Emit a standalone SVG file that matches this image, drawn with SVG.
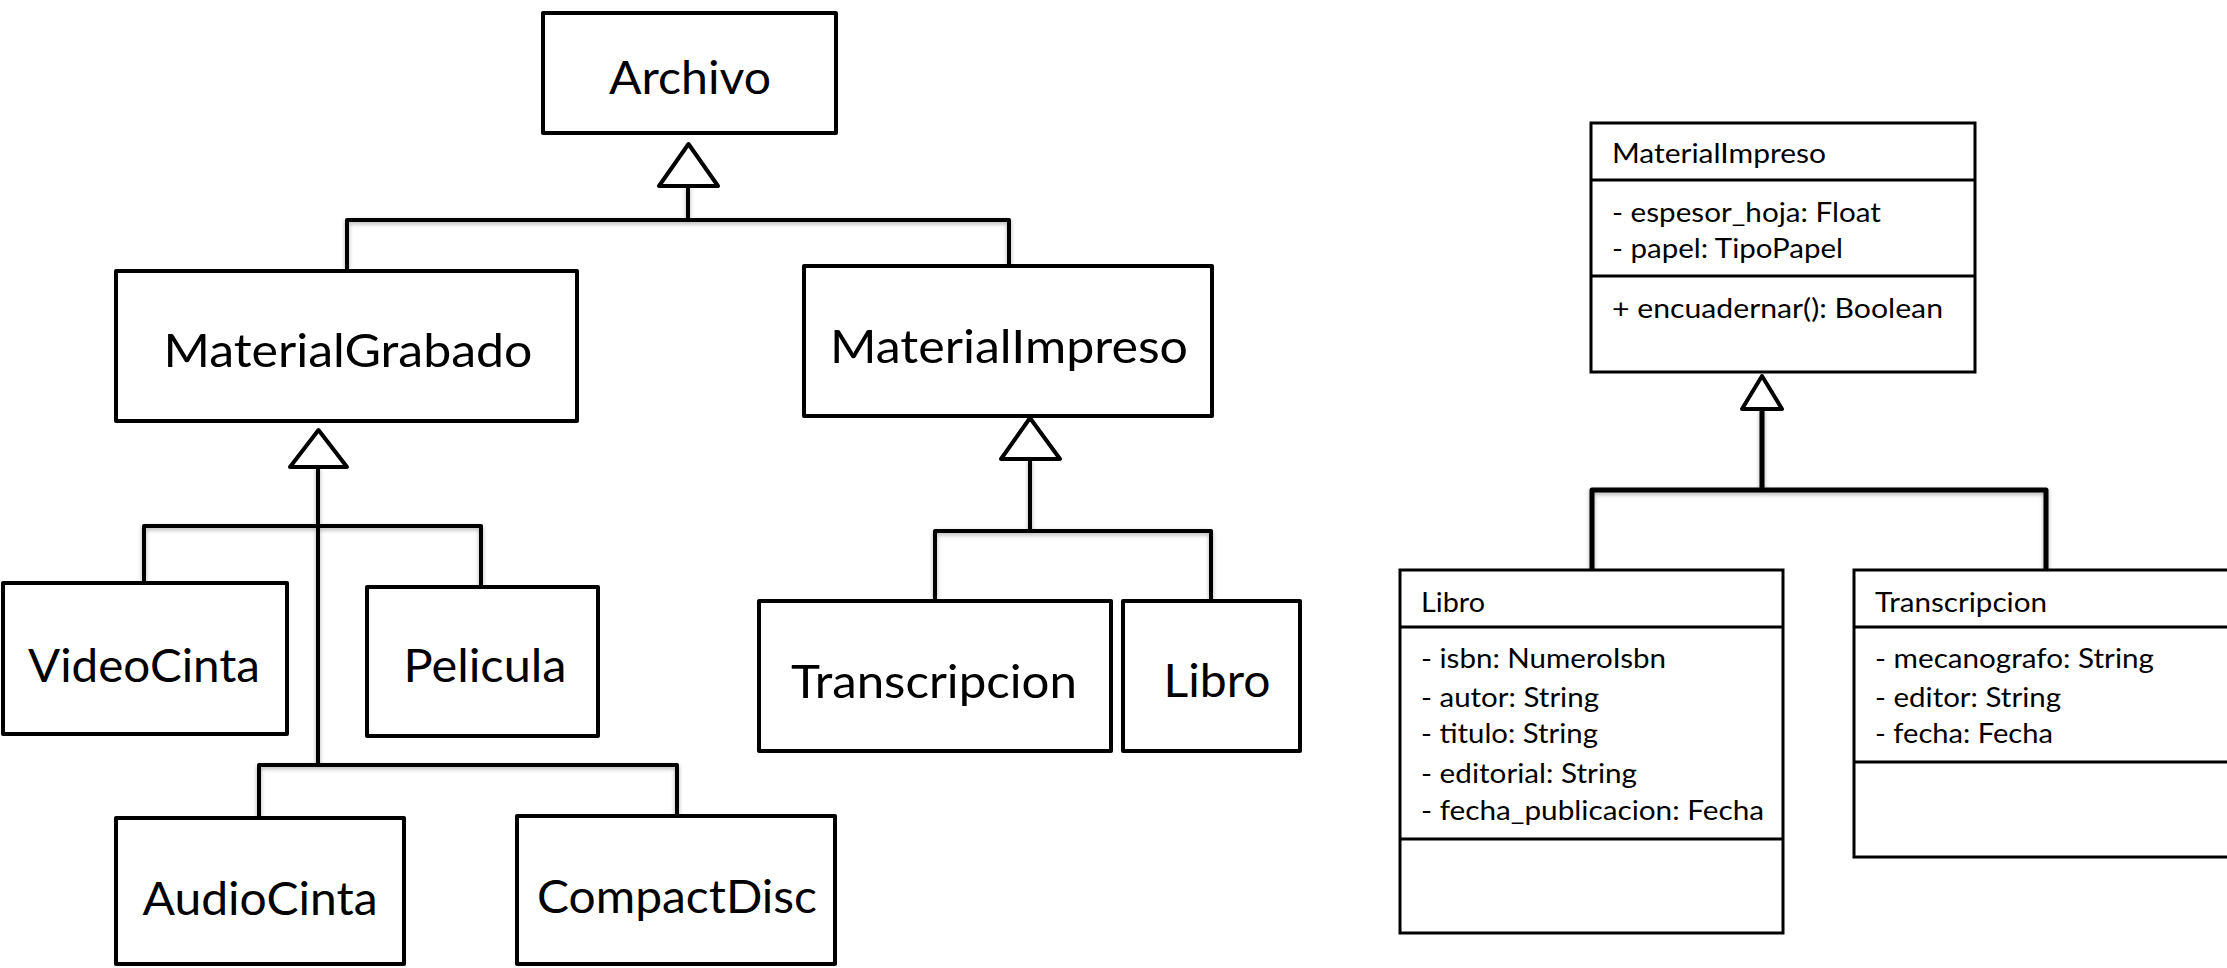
<svg xmlns="http://www.w3.org/2000/svg" width="2227" height="968" viewBox="0 0 2227 968">
  <style>
    .box { fill: #ffffff; stroke: #000000; stroke-width: 4; stroke-linejoin: round; }
    .uml { fill: #ffffff; stroke: #000000; stroke-width: 3; }
    .sep { stroke: #000000; stroke-width: 3; fill: none; }
    .big { font-family: Lato, "Liberation Sans", sans-serif; font-size: 47px; fill: #000000; text-anchor: middle; }
    .small { font-family: Lato, "Liberation Sans", sans-serif; font-size: 26px; fill: #000000; }
    .wire { fill: none; stroke: #000000; stroke-width: 4; stroke-linejoin: round; }
    .wire-uml { fill: none; stroke: #000000; stroke-width: 5; stroke-linejoin: round; }
    .head { fill: #ffffff; stroke: #000000; stroke-width: 4; stroke-linejoin: round; }
  </style>
  <defs>
    <filter id="soft" x="-5%" y="-20%" width="110%" height="160%">
      <feDropShadow dx="0" dy="2" stdDeviation="2" flood-color="#000000" flood-opacity="0.3"/>
    </filter>
  </defs>
  <rect x="0" y="0" width="2227" height="968" fill="#ffffff"/>

  <!-- generalization connectors -->
  <g id="connectors" filter="url(#soft)">
    <!-- Archivo hierarchy -->
    <path class="wire" d="M688,186 V220 M347,270 V220 H1009 V265"/>
    <!-- MaterialGrabado hierarchy -->
    <path class="wire" d="M318,467 V765 M144,583 V526 H481 V587 M259,818 V765 H677 V816"/>
    <!-- MaterialImpreso hierarchy -->
    <path class="wire" d="M1030,459 V531 M935,601 V531 H1211 V601"/>
    <!-- detailed class diagram -->
    <path class="wire-uml" d="M1762,409 V490 M1592,570 V490 H2046 V570"/>
  </g>

  <!-- left hierarchy -->
  <g id="node-archivo">
    <rect class="box" x="543" y="13" width="293" height="120"/>
    <text class="big" x="690" y="94" textLength="162" lengthAdjust="spacingAndGlyphs">Archivo</text>
  </g>
  <g id="node-materialgrabado">
    <rect class="box" x="116" y="271" width="461" height="150"/>
    <text class="big" x="348" y="367" textLength="369" lengthAdjust="spacingAndGlyphs">MaterialGrabado</text>
  </g>
  <g id="node-materialimpreso">
    <rect class="box" x="804" y="266" width="408" height="150"/>
    <text class="big" x="1009" y="363" textLength="358" lengthAdjust="spacingAndGlyphs">MaterialImpreso</text>
  </g>
  <g id="node-videocinta">
    <rect class="box" x="3" y="583" width="284" height="151"/>
    <text class="big" x="144" y="682" textLength="232" lengthAdjust="spacingAndGlyphs">VideoCinta</text>
  </g>
  <g id="node-pelicula">
    <rect class="box" x="367" y="587" width="231" height="149"/>
    <text class="big" x="485" y="682" textLength="163" lengthAdjust="spacingAndGlyphs">Pelicula</text>
  </g>
  <g id="node-audiocinta">
    <rect class="box" x="116" y="818" width="288" height="146"/>
    <text class="big" x="260" y="915" textLength="235" lengthAdjust="spacingAndGlyphs">AudioCinta</text>
  </g>
  <g id="node-compactdisc">
    <rect class="box" x="517" y="816" width="318" height="148"/>
    <text class="big" x="677" y="913" textLength="280" lengthAdjust="spacingAndGlyphs">CompactDisc</text>
  </g>
  <g id="node-transcripcion">
    <rect class="box" x="759" y="601" width="352" height="150"/>
    <text class="big" x="934" y="698" textLength="286" lengthAdjust="spacingAndGlyphs">Transcripcion</text>
  </g>
  <g id="node-libro">
    <rect class="box" x="1123" y="601" width="177" height="150"/>
    <text class="big" x="1217" y="697" textLength="107" lengthAdjust="spacingAndGlyphs">Libro</text>
  </g>

  <!-- inheritance heads, left hierarchy -->
  <g id="heads">
    <polygon class="head" points="688.5,144 718,186 659,186"/>
    <polygon class="head" points="318.5,430 347,467 290,467"/>
    <polygon class="head" points="1030,418 1060,459 1001,459"/>
    <polygon class="head" points="1762,376 1782,409 1742,409"/>
  </g>

  <!-- detailed classes -->
  <g id="class-materialimpreso">
    <rect class="uml" x="1591" y="123" width="384" height="249"/>
    <line class="sep" x1="1591" y1="180" x2="1975" y2="180"/>
    <line class="sep" x1="1591" y1="276" x2="1975" y2="276"/>
    <text class="small" x="1612" y="163" textLength="214" lengthAdjust="spacingAndGlyphs">MaterialImpreso</text>
    <text class="small" x="1612" y="222" textLength="269" lengthAdjust="spacingAndGlyphs">- espesor_hoja: Float</text>
    <text class="small" x="1612" y="258" textLength="231" lengthAdjust="spacingAndGlyphs">- papel: TipoPapel</text>
    <text class="small" x="1612" y="318" textLength="331" lengthAdjust="spacingAndGlyphs">+ encuadernar(): Boolean</text>
  </g>
  <g id="class-libro">
    <rect class="uml" x="1400" y="570" width="383" height="363"/>
    <line class="sep" x1="1400" y1="627" x2="1783" y2="627"/>
    <line class="sep" x1="1400" y1="839" x2="1783" y2="839"/>
    <text class="small" x="1421" y="612" textLength="64" lengthAdjust="spacingAndGlyphs">Libro</text>
    <text class="small" x="1421" y="668" textLength="245" lengthAdjust="spacingAndGlyphs">- isbn: NumeroIsbn</text>
    <text class="small" x="1421" y="707" textLength="178" lengthAdjust="spacingAndGlyphs">- autor: String</text>
    <text class="small" x="1421" y="743" textLength="177" lengthAdjust="spacingAndGlyphs">- titulo: String</text>
    <text class="small" x="1421" y="783" textLength="216" lengthAdjust="spacingAndGlyphs">- editorial: String</text>
    <text class="small" x="1421" y="820" textLength="343" lengthAdjust="spacingAndGlyphs">- fecha_publicacion: Fecha</text>
  </g>
  <g id="class-transcripcion">
    <rect class="uml" x="1854" y="570" width="390" height="287"/>
    <line class="sep" x1="1854" y1="627" x2="2244" y2="627"/>
    <line class="sep" x1="1854" y1="762" x2="2244" y2="762"/>
    <text class="small" x="1875" y="612" textLength="172" lengthAdjust="spacingAndGlyphs">Transcripcion</text>
    <text class="small" x="1875" y="668" textLength="279" lengthAdjust="spacingAndGlyphs">- mecanografo: String</text>
    <text class="small" x="1875" y="707" textLength="186" lengthAdjust="spacingAndGlyphs">- editor: String</text>
    <text class="small" x="1875" y="743" textLength="178" lengthAdjust="spacingAndGlyphs">- fecha: Fecha</text>
  </g>
</svg>
